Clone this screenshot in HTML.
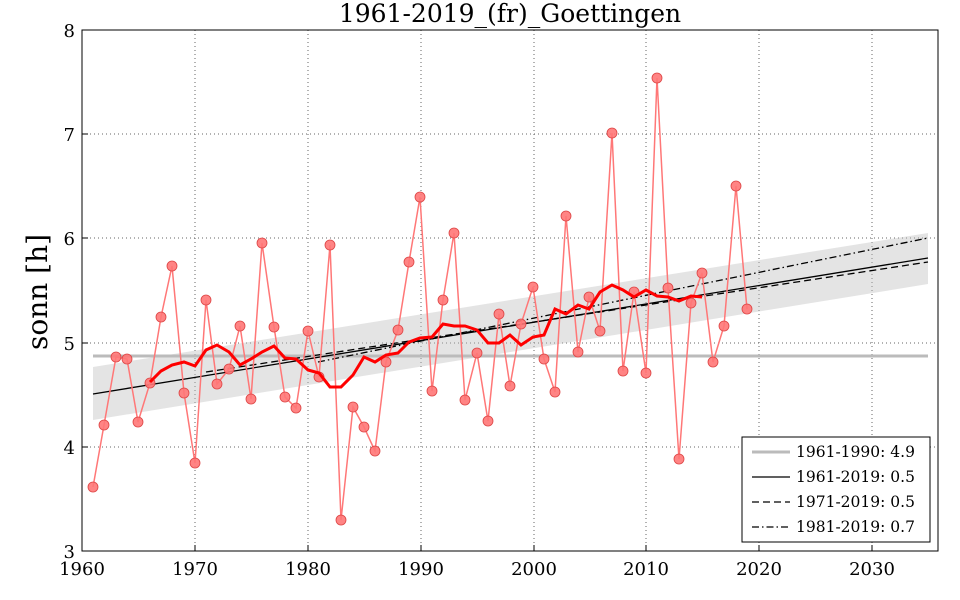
<!DOCTYPE html>
<html><head><meta charset="utf-8"><style>body{margin:0;background:#fff}svg{display:block}text{font-family:"DejaVu Serif","Liberation Serif",serif}</style></head><body>
<svg width="960" height="600" viewBox="0 0 960 600">
<g stroke="#666" stroke-dasharray="1,3" stroke-width="1">
<line x1="195" y1="30" x2="195" y2="551"/><line x1="308" y1="30" x2="308" y2="551"/><line x1="421" y1="30" x2="421" y2="551"/><line x1="534" y1="30" x2="534" y2="551"/><line x1="646" y1="30" x2="646" y2="551"/><line x1="759" y1="30" x2="759" y2="551"/><line x1="872" y1="30" x2="872" y2="551"/>
<line x1="82" y1="134" x2="938" y2="134"/><line x1="82" y1="238" x2="938" y2="238"/><line x1="82" y1="343" x2="938" y2="343"/><line x1="82" y1="447" x2="938" y2="447"/>
</g>
<polygon points="93,367 928,233 928,284 93,420" fill="#bbb" fill-opacity="0.4"/>
<line x1="93" y1="356" x2="928" y2="356" stroke="#bbb" stroke-width="3"/>
<line x1="93" y1="394" x2="928" y2="258" stroke="#000" stroke-width="1.3"/>
<line x1="206" y1="372" x2="928" y2="262" stroke="#000" stroke-width="1.3" stroke-dasharray="7,4"/>
<line x1="318" y1="362" x2="928" y2="238" stroke="#000" stroke-width="1.3" stroke-dasharray="7,3,1.5,3"/>
<polyline fill="none" stroke="#f77" stroke-width="1.5" points="93,487 104,425 116,357 127,359 138,422 150,383 161,317 172,266 184,393 195,463 206,300 217,384 229,369 240,326 251,399 262,243 274,327 285,397 296,408 308,331 319,377 330,245 341,520 353,407 364,427 375,451 386,362 398,330 409,262 420,197 432,391 443,300 454,233 465,400 477,353 488,421 499,314 510,386 521,324 533,287 544,359 555,392 566,216 578,352 589,297 600,331 612,133 623,371 634,292 646,373 657,78 668,288 679,459 691,303 702,273 713,362 724,326 736,186 747,309"/>
<g fill="#f77" stroke="#d44" stroke-width="0.8" fill-opacity="0.9">
<circle cx="93" cy="487" r="5"/><circle cx="104" cy="425" r="5"/><circle cx="116" cy="357" r="5"/><circle cx="127" cy="359" r="5"/><circle cx="138" cy="422" r="5"/><circle cx="150" cy="383" r="5"/><circle cx="161" cy="317" r="5"/><circle cx="172" cy="266" r="5"/><circle cx="184" cy="393" r="5"/><circle cx="195" cy="463" r="5"/><circle cx="206" cy="300" r="5"/><circle cx="217" cy="384" r="5"/><circle cx="229" cy="369" r="5"/><circle cx="240" cy="326" r="5"/><circle cx="251" cy="399" r="5"/><circle cx="262" cy="243" r="5"/><circle cx="274" cy="327" r="5"/><circle cx="285" cy="397" r="5"/><circle cx="296" cy="408" r="5"/><circle cx="308" cy="331" r="5"/><circle cx="319" cy="377" r="5"/><circle cx="330" cy="245" r="5"/><circle cx="341" cy="520" r="5"/><circle cx="353" cy="407" r="5"/><circle cx="364" cy="427" r="5"/><circle cx="375" cy="451" r="5"/><circle cx="386" cy="362" r="5"/><circle cx="398" cy="330" r="5"/><circle cx="409" cy="262" r="5"/><circle cx="420" cy="197" r="5"/><circle cx="432" cy="391" r="5"/><circle cx="443" cy="300" r="5"/><circle cx="454" cy="233" r="5"/><circle cx="465" cy="400" r="5"/><circle cx="477" cy="353" r="5"/><circle cx="488" cy="421" r="5"/><circle cx="499" cy="314" r="5"/><circle cx="510" cy="386" r="5"/><circle cx="521" cy="324" r="5"/><circle cx="533" cy="287" r="5"/><circle cx="544" cy="359" r="5"/><circle cx="555" cy="392" r="5"/><circle cx="566" cy="216" r="5"/><circle cx="578" cy="352" r="5"/><circle cx="589" cy="297" r="5"/><circle cx="600" cy="331" r="5"/><circle cx="612" cy="133" r="5"/><circle cx="623" cy="371" r="5"/><circle cx="634" cy="292" r="5"/><circle cx="646" cy="373" r="5"/><circle cx="657" cy="78" r="5"/><circle cx="668" cy="288" r="5"/><circle cx="679" cy="459" r="5"/><circle cx="691" cy="303" r="5"/><circle cx="702" cy="273" r="5"/><circle cx="713" cy="362" r="5"/><circle cx="724" cy="326" r="5"/><circle cx="736" cy="186" r="5"/><circle cx="747" cy="309" r="5"/>
</g>
<polyline fill="none" stroke="#f00" stroke-width="3" points="150,382 161,371 172,365 184,362 195,366 206,350 217,345 229,352 240,365 251,359 262,352 274,346 285,358 296,359 308,370 319,373 330,387 341,387 353,375 364,357 375,362 386,355 398,353 409,342 420,338 432,337 443,324 454,326 465,326 477,330 488,343 499,343 510,335 521,345 533,337 544,335 555,309 566,314 578,305 589,309 600,292 612,285 623,290 634,297 646,290 657,296 668,297 679,301 691,296 702,297"/>
<rect x="82" y="30" width="856" height="521" fill="none" stroke="#000" stroke-width="1"/>
<g stroke="#000"><line x1="195" y1="551" x2="195" y2="545"/><line x1="308" y1="551" x2="308" y2="545"/><line x1="421" y1="551" x2="421" y2="545"/><line x1="534" y1="551" x2="534" y2="545"/><line x1="646" y1="551" x2="646" y2="545"/><line x1="759" y1="551" x2="759" y2="545"/><line x1="872" y1="551" x2="872" y2="545"/>
<line x1="82" y1="134" x2="88" y2="134"/><line x1="82" y1="238" x2="88" y2="238"/><line x1="82" y1="343" x2="88" y2="343"/><line x1="82" y1="447" x2="88" y2="447"/></g>
<g font-size="18" text-anchor="middle"><text x="82" y="575">1960</text><text x="195" y="575">1970</text><text x="308" y="575">1980</text><text x="421" y="575">1990</text><text x="534" y="575">2000</text><text x="646" y="575">2010</text><text x="759" y="575">2020</text><text x="872" y="575">2030</text></g>
<g font-size="18" text-anchor="end"><text x="75" y="37">8</text><text x="75" y="141">7</text><text x="75" y="245">6</text><text x="75" y="350">5</text><text x="75" y="454">4</text><text x="75" y="558">3</text></g>
<text x="510" y="22" font-size="25" text-anchor="middle">1961-2019_(fr)_Goettingen</text>
<text transform="translate(47,292) rotate(-90)" font-size="28" text-anchor="middle">sonn [h]</text>
<rect x="742" y="437" width="188" height="105" fill="#fff" stroke="#000"/>
<line x1="752" y1="452" x2="790" y2="452" stroke="#bbb" stroke-width="3"/>
<line x1="752" y1="477" x2="790" y2="477" stroke="#000" stroke-width="1.3"/>
<line x1="752" y1="502" x2="790" y2="502" stroke="#000" stroke-width="1.3" stroke-dasharray="7,4"/>
<line x1="752" y1="527" x2="790" y2="527" stroke="#000" stroke-width="1.3" stroke-dasharray="7,3,1.5,3"/>
<g font-size="15.5"><text x="796" y="457">1961-1990: 4.9</text><text x="796" y="482">1961-2019: 0.5</text><text x="796" y="507">1971-2019: 0.5</text><text x="796" y="532">1981-2019: 0.7</text></g>
</svg></body></html>
